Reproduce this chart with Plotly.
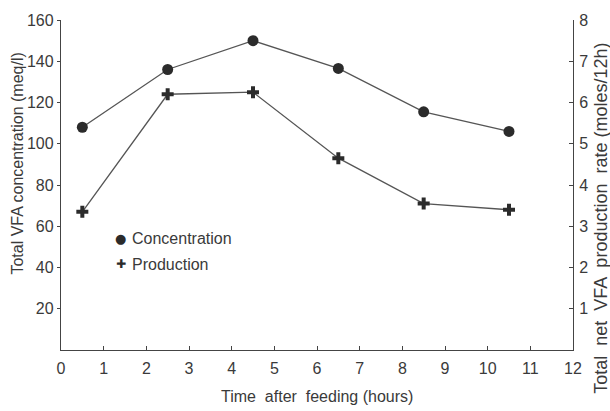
import plotly.graph_objects as go

hours = [0.5, 2.5, 4.5, 6.5, 8.5, 10.5]
concentration = [108, 136, 150, 136.5, 115.5, 106]
production = [3.35, 6.2, 6.25, 4.65, 3.55, 3.4]

x_ticks = list(range(0, 13))
left_ticks = [20, 40, 60, 80, 100, 120, 140, 160]
right_ticks = [1, 2, 3, 4, 5, 6, 7, 8]

ink = "#2b2b2b"
line_col = "#555555"
txt = "#3a3a3a"
font_family = "Liberation Sans, Arial, sans-serif"

fig = go.Figure()
fig.add_trace(go.Scatter(
    x=hours, y=concentration, mode="lines+markers", name="Concentration",
    line=dict(color=line_col, width=1.3),
    marker=dict(symbol="circle", size=11, color=ink),
    showlegend=False, yaxis="y"))
fig.add_trace(go.Scatter(
    x=hours, y=production, mode="lines+markers", name="Production",
    line=dict(color=line_col, width=1.3),
    marker=dict(symbol="cross", size=10, color=ink),
    showlegend=False, yaxis="y2"))

axis_common = dict(tickcolor="#444", showline=True, linecolor="#444",
                   linewidth=1.3, showgrid=False, zeroline=False,
                   tickfont=dict(size=16, color=txt))

fig.update_layout(
    width=610, height=411,
    margin=dict(l=61, r=37, t=16, b=61),
    paper_bgcolor="white", plot_bgcolor="white",
    font=dict(family=font_family, size=16, color=txt),
    showlegend=False,
    xaxis=dict(range=[0, 12], tickvals=x_ticks, ticks="inside", ticklen=4,
               ticklabelstandoff=4, **axis_common),
    yaxis=dict(range=[0, 160], tickvals=left_ticks, ticks="outside", ticklen=3,
               ticklabelstandoff=0, **axis_common),
    yaxis2=dict(range=[0, 8], tickvals=right_ticks, overlaying="y", side="right",
                ticks="inside", ticklen=4, ticklabelstandoff=2, **axis_common),
    annotations=[
        # x-axis title
        dict(text="Time  after  feeding (hours)", xref="paper", yref="paper",
             x=0.5, y=-0.14, xanchor="center", yanchor="middle",
             showarrow=False, font=dict(size=16, color=txt)),
        # left y-axis title
        dict(text="Total VFA concentration (meq/l)", xref="paper", yref="paper",
             x=0, xshift=-43, y=0.565, xanchor="center", yanchor="middle",
             textangle=-90, showarrow=False, font=dict(size=16, color=txt)),
        # right y-axis title
        dict(text="Total  net  VFA  production  rate (moles/12h)",
             xref="paper", yref="paper", x=1.0, xshift=28, y=-0.14,
             xanchor="center", yanchor="bottom", textangle=-90, showarrow=False,
             font=dict(size=18, color=txt)),
        # legend
        dict(text="●", xref="paper", yref="paper", x=0.117, y=0.338,
             xanchor="center", yanchor="middle", showarrow=False,
             font=dict(size=13, color=ink, family="DejaVu Sans")),
        dict(text="Concentration", xref="paper", yref="paper", x=0.135, y=0.338,
             xanchor="left", yanchor="middle", showarrow=False,
             font=dict(size=16, color=txt)),
        dict(text="✚", xref="paper", yref="paper", x=0.117, y=0.26,
             xanchor="center", yanchor="middle", showarrow=False,
             font=dict(size=12, color=ink, family="DejaVu Sans")),
        dict(text="Production", xref="paper", yref="paper", x=0.135, y=0.26,
             xanchor="left", yanchor="middle", showarrow=False,
             font=dict(size=16, color=txt)),
    ],
)

fig.write_html("out.html")
